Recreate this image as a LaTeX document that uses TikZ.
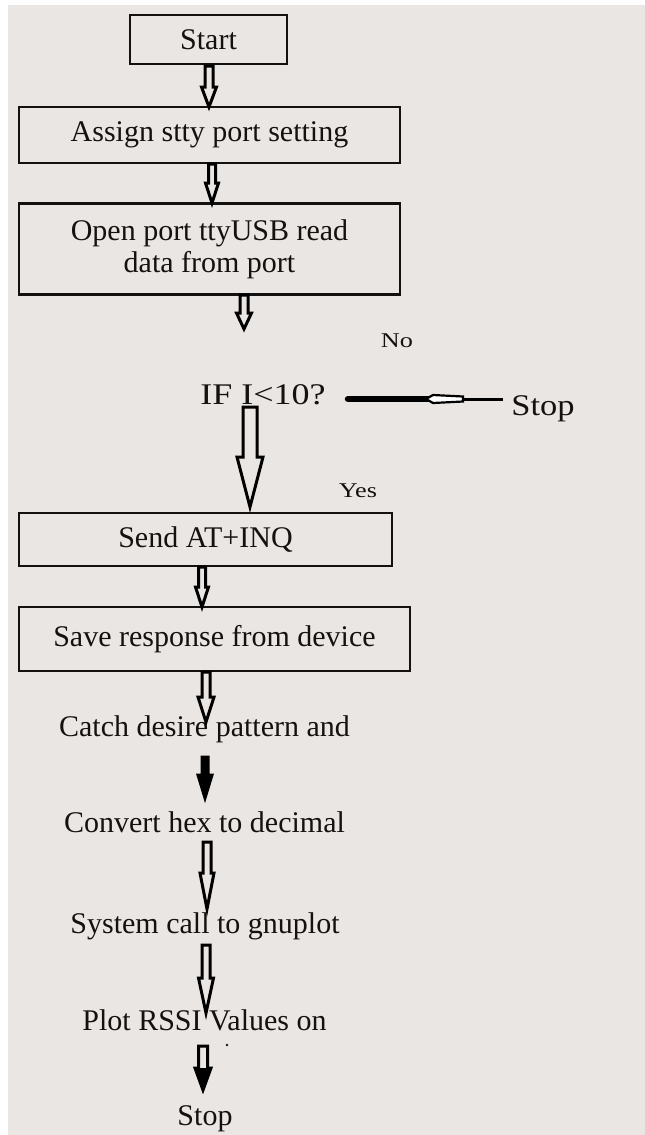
\documentclass[tikz,border=0pt]{standalone}
\usepackage{fontspec}
\setmainfont{Liberation Serif}
\usepackage{graphicx}
\definecolor{bg}{RGB}{234,230,227}
\definecolor{ink}{RGB}{20,18,16}
\tikzset{
  box/.style={draw=ink, line width=2.3pt, inner sep=0pt, text=ink, font=\fontsize{30}{32}\selectfont, align=center},
  lbl/.style={text=ink, font=\fontsize{30}{34}\selectfont, inner sep=0pt, anchor=base},
  small/.style={text=ink, font=\fontsize{21}{24}\selectfont, inner sep=0pt, anchor=base},
  barrowst/.style={draw=black, line width=3pt, line join=miter, fill=bg},
  barrowfill/.style={draw=black, line width=3pt, line join=miter, fill=black}
}
% x, ytop, ytip, yhead, half shaft, half head, style
\newcommand{\blockarr}[7]{%
  \draw[#7] (#1-#5,#2) -- (#1-#5,#4) -- (#1-#6,#4) -- (#1,#3) -- (#1+#6,#4) -- (#1+#5,#4) -- (#1+#5,#2) -- cycle;}
\begin{document}
\begin{tikzpicture}[x=1pt,y=-1pt]
\useasboundingbox (0,0) rectangle (645,1135);
\fill[white] (0,0) rectangle (645,1135);
\fill[bg] (8,5) rectangle (645,1135);

\node[box, minimum width=157pt, minimum height=49pt] (start) at (208.5,39.5) {Start};
\node[box, minimum width=381pt, minimum height=56pt] (assign) at (209.5,135) {Assign stty port setting};
\node[box, minimum width=381pt, minimum height=91pt] (open) at (209.5,249) {Open port ttyUSB read\\data from port};
\node[lbl] (if) at (263,404) {\scalebox{1.2}[1]{IF I<10?}};
\node[lbl] (stop1) at (543,415) {\scalebox{1.15}[1]{Stop}};
\node[small] (no) at (397,347) {\scalebox{1.25}[1]{No}};
\node[small] (yes) at (358,497) {\scalebox{1.25}[1]{Yes}};
\node[box, minimum width=373pt, minimum height=53pt] (send) at (205.5,539.5) {Send AT+INQ};
\node[box, minimum width=391pt, minimum height=64pt] (save) at (214.5,639) {Save response from device};
\node[lbl] (catch) at (204.5,736) {Catch desire pattern and};
\node[lbl] (convert) at (204.5,832) {Convert hex to decimal};
\node[lbl] (system) at (205,933) {System call to gnuplot};
\node[lbl] (plot) at (204.5,1030) {Plot RSSI Values on};
\node[lbl] (stop2) at (205,1125) {Stop};

% block arrows
\blockarr{209}{66}{107}{87}{4}{7.5}{barrowst}
\blockarr{212}{164}{203}{183}{3.5}{6.5}{barrowst}
\blockarr{244}{295}{329}{313}{4}{7.5}{barrowst}
\blockarr{250}{407}{507}{457}{7}{13}{barrowst}
\blockarr{202}{567}{607}{587}{3.5}{6.5}{barrowst}
\blockarr{206}{672}{722}{697}{4}{8}{barrowst}
\blockarr{205}{757}{798}{775}{3}{7}{barrowfill}
\blockarr{207}{842}{909}{873}{4}{7}{barrowst}
\blockarr{206}{945}{1013}{978}{4}{7.5}{barrowst}
\blockarr{203}{1046}{1090}{1068}{4.5}{8}{barrowst}
\fill[black] (196,1068) -- (203,1090) -- (210,1068) -- cycle;

% No branch connector to Stop
\coordinate (nb1) at (348,399);
\coordinate (nb2) at (430,399);
\coordinate (nb3) at (463,399);
\coordinate (nb4) at (503,399);
\draw[black, line width=6.5pt, line cap=round] (nb1) -- (nb2);
\draw[black, line width=2.2pt, fill=white] (426,399) -- (433,395) -- (463,396.5) -- (463,401.5) -- (433,403) -- cycle;
\draw[black, line width=3pt] (nb3) -- (nb4);

\fill[ink] (227,1045) circle (1.3);
\end{tikzpicture}
\end{document}
